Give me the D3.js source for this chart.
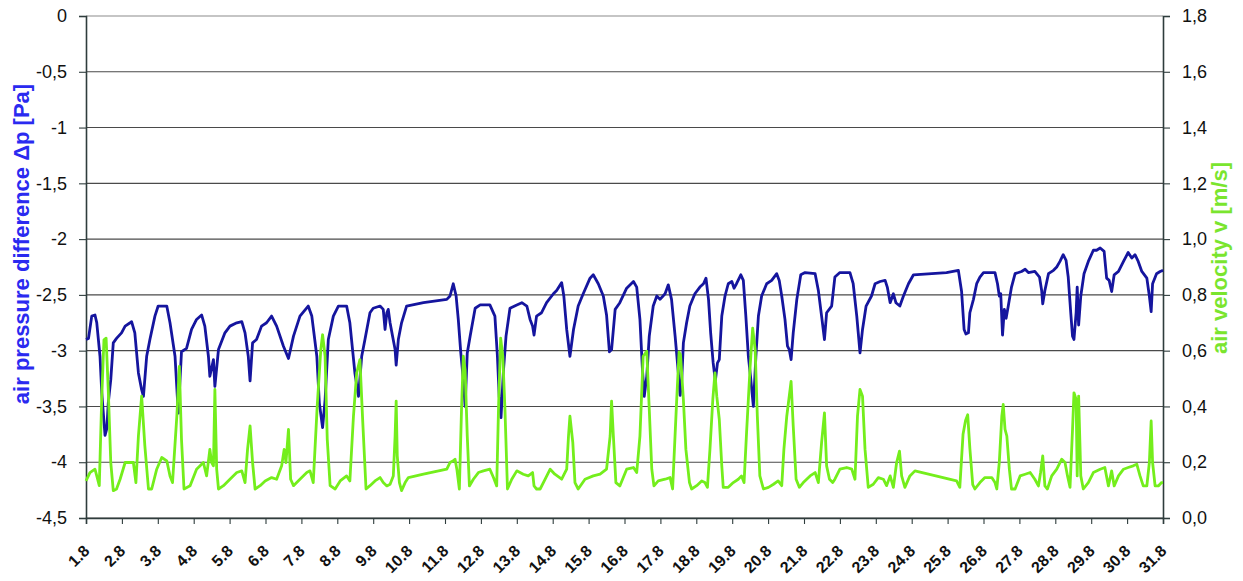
<!DOCTYPE html>
<html>
<head>
<meta charset="utf-8">
<script src="https://cdn.jsdelivr.net/npm/d3@7"></script>
<style>
  html, body { margin: 0; padding: 0; background: #ffffff; }
  svg { display: block; }
  text { font-family: "Liberation Sans", Arial, sans-serif; }
</style>
</head>
<body>
<svg id="chart" width="1243" height="581"></svg>
<script>
// Day-of-month tick labels (August)
const dayLabels = ["1.8","2.8","3.8","4.8","5.8","6.8","7.8","8.8","9.8","10.8","11.8","12.8","13.8","14.8","15.8","16.8","17.8","18.8","19.8","20.8","21.8","22.8","23.8","24.8","25.8","26.8","27.8","28.8","29.8","30.8","31.8"];
const pressureTicks = [0, -0.5, -1, -1.5, -2, -2.5, -3, -3.5, -4, -4.5];
const velocityTicks = [0, 0.2, 0.4, 0.6, 0.8, 1.0, 1.2, 1.4, 1.6, 1.8];

// Air pressure difference Δp [Pa]: [days since 1.8, value]
const pressureSeries = [
  [0.00,-2.90],[0.07,-2.89],[0.16,-2.69],[0.25,-2.68],[0.30,-2.75],[0.39,-3.05],[0.44,-3.38],[0.53,-3.76],
  [0.58,-3.70],[0.62,-3.47],[0.69,-3.26],[0.76,-2.93],[0.85,-2.89],[0.99,-2.84],[1.09,-2.78],[1.23,-2.75],
  [1.27,-2.74],[1.36,-2.84],[1.46,-3.20],[1.55,-3.35],[1.60,-3.41],[1.69,-3.05],[1.78,-2.90],[1.92,-2.69],
  [2.01,-2.60],[2.25,-2.60],[2.34,-2.75],[2.48,-3.05],[2.57,-3.56],[2.66,-3.01],[2.80,-2.98],[2.94,-2.81],
  [3.08,-2.72],[3.22,-2.68],[3.31,-2.78],[3.41,-3.05],[3.45,-3.23],[3.55,-3.08],[3.59,-3.32],[3.69,-2.99],
  [3.87,-2.84],[4.01,-2.78],[4.20,-2.75],[4.34,-2.74],[4.43,-2.84],[4.52,-3.05],[4.57,-3.27],[4.64,-2.93],
  [4.75,-2.90],[4.89,-2.78],[5.03,-2.75],[5.17,-2.69],[5.31,-2.78],[5.50,-2.96],[5.64,-3.07],[5.78,-2.87],
  [5.96,-2.69],[6.19,-2.60],[6.29,-2.69],[6.43,-3.05],[6.50,-3.47],[6.59,-3.69],[6.66,-3.44],[6.75,-2.90],
  [6.89,-2.69],[7.03,-2.60],[7.26,-2.60],[7.35,-2.75],[7.49,-3.20],[7.59,-3.41],[7.68,-3.05],[7.77,-2.90],
  [7.91,-2.66],[8.00,-2.62],[8.19,-2.60],[8.28,-2.63],[8.33,-2.81],[8.38,-2.66],[8.42,-2.63],[8.47,-2.75],
  [8.54,-2.87],[8.61,-2.99],[8.64,-3.13],[8.70,-2.90],[8.79,-2.75],[8.93,-2.60],[9.40,-2.57],[10.05,-2.54],
  [10.14,-2.51],[10.23,-2.40],[10.31,-2.51],[10.37,-2.72],[10.44,-3.02],[10.51,-3.26],[10.56,-3.50],[10.62,-3.02],
  [10.70,-2.87],[10.84,-2.62],[10.98,-2.59],[11.25,-2.59],[11.39,-2.69],[11.46,-3.05],[11.51,-3.41],[11.56,-3.60],
  [11.63,-3.17],[11.70,-2.87],[11.81,-2.62],[12.00,-2.59],[12.14,-2.57],[12.28,-2.60],[12.37,-2.72],[12.44,-2.78],
  [12.48,-2.86],[12.55,-2.69],[12.69,-2.66],[12.83,-2.57],[13.02,-2.49],[13.11,-2.46],[13.25,-2.39],[13.31,-2.51],
  [13.39,-2.81],[13.48,-3.05],[13.58,-2.81],[13.71,-2.60],[13.85,-2.49],[14.04,-2.35],[14.13,-2.32],[14.27,-2.40],
  [14.41,-2.51],[14.50,-2.68],[14.58,-3.01],[14.64,-2.99],[14.74,-2.63],[14.87,-2.57],[15.06,-2.44],[15.25,-2.38],
  [15.34,-2.43],[15.43,-2.72],[15.50,-3.17],[15.55,-3.41],[15.62,-3.23],[15.69,-2.87],[15.80,-2.60],[15.90,-2.51],
  [15.99,-2.54],[16.13,-2.49],[16.22,-2.41],[16.31,-2.54],[16.41,-2.87],[16.50,-3.20],[16.55,-3.40],[16.59,-3.29],
  [16.64,-2.93],[16.73,-2.75],[16.82,-2.60],[16.96,-2.49],[17.10,-2.43],[17.20,-2.40],[17.27,-2.35],[17.34,-2.54],
  [17.40,-2.84],[17.47,-3.11],[17.53,-3.27],[17.59,-3.11],[17.64,-3.08],[17.71,-2.69],[17.80,-2.51],[17.89,-2.40],
  [17.99,-2.38],[18.05,-2.44],[18.12,-2.40],[18.24,-2.32],[18.31,-2.37],[18.38,-2.69],[18.45,-3.05],[18.51,-3.23],
  [18.59,-3.50],[18.66,-3.05],[18.73,-2.69],[18.82,-2.51],[18.96,-2.40],[19.10,-2.37],[19.24,-2.31],[19.31,-2.37],
  [19.38,-2.51],[19.47,-2.72],[19.54,-2.96],[19.59,-2.99],[19.64,-3.08],[19.70,-2.84],[19.80,-2.54],[19.91,-2.32],
  [20.03,-2.30],[20.31,-2.31],[20.40,-2.46],[20.49,-2.69],[20.57,-2.90],[20.63,-2.66],[20.77,-2.60],[20.86,-2.34],
  [21.00,-2.30],[21.28,-2.30],[21.37,-2.40],[21.47,-2.69],[21.56,-3.02],[21.63,-2.81],[21.73,-2.60],[21.88,-2.51],
  [21.98,-2.40],[22.12,-2.38],[22.26,-2.37],[22.32,-2.43],[22.40,-2.57],[22.49,-2.49],[22.56,-2.57],[22.67,-2.60],
  [22.77,-2.51],[22.91,-2.40],[23.05,-2.32],[23.97,-2.30],[24.30,-2.28],[24.39,-2.47],[24.46,-2.81],[24.51,-2.85],
  [24.58,-2.84],[24.62,-2.66],[24.72,-2.54],[24.81,-2.40],[24.90,-2.34],[25.00,-2.30],[25.32,-2.30],[25.39,-2.40],
  [25.44,-2.51],[25.48,-2.49],[25.53,-2.86],[25.58,-2.63],[25.63,-2.71],[25.69,-2.60],[25.78,-2.43],[25.88,-2.31],
  [26.06,-2.29],[26.16,-2.27],[26.25,-2.30],[26.43,-2.29],[26.56,-2.34],[26.62,-2.46],[26.65,-2.58],[26.71,-2.46],
  [26.81,-2.31],[26.95,-2.28],[27.04,-2.25],[27.13,-2.20],[27.22,-2.14],[27.30,-2.19],[27.36,-2.34],[27.43,-2.66],
  [27.48,-2.87],[27.52,-2.90],[27.58,-2.66],[27.61,-2.43],[27.65,-2.77],[27.71,-2.51],[27.80,-2.31],[27.92,-2.20],
  [28.06,-2.10],[28.15,-2.10],[28.25,-2.08],[28.36,-2.11],[28.43,-2.35],[28.50,-2.37],[28.57,-2.47],[28.64,-2.32],
  [28.76,-2.29],[28.90,-2.20],[29.03,-2.12],[29.13,-2.17],[29.22,-2.14],[29.31,-2.20],[29.41,-2.29],[29.55,-2.35],
  [29.62,-2.51],[29.67,-2.65],[29.71,-2.40],[29.82,-2.31],[29.92,-2.29],[30.00,-2.28]
];

// Air velocity v [m/s]: [days since 1.8, value]
const velocitySeries = [
  [0.00,0.133],[0.11,0.163],[0.25,0.175],[0.30,0.151],[0.37,0.116],[0.44,0.437],[0.50,0.639],[0.56,0.645],
  [0.62,0.460],[0.69,0.199],[0.76,0.098],[0.85,0.104],[0.95,0.139],[1.09,0.199],[1.32,0.199],[1.39,0.127],
  [1.46,0.294],[1.55,0.437],[1.64,0.258],[1.74,0.104],[1.83,0.104],[1.97,0.175],[2.11,0.217],[2.25,0.205],
  [2.34,0.151],[2.41,0.127],[2.53,0.365],[2.60,0.544],[2.66,0.282],[2.73,0.104],[2.90,0.116],[3.08,0.175],
  [3.27,0.199],[3.36,0.151],[3.45,0.246],[3.50,0.199],[3.55,0.187],[3.59,0.461],[3.64,0.175],[3.69,0.104],
  [3.83,0.116],[4.01,0.139],[4.20,0.163],[4.34,0.169],[4.43,0.127],[4.50,0.246],[4.57,0.330],[4.64,0.199],
  [4.71,0.104],[4.85,0.116],[4.99,0.133],[5.17,0.145],[5.31,0.139],[5.45,0.187],[5.52,0.246],[5.57,0.199],
  [5.64,0.318],[5.70,0.139],[5.78,0.116],[5.96,0.139],[6.15,0.163],[6.24,0.169],[6.33,0.127],[6.44,0.400],
  [6.54,0.604],[6.59,0.657],[6.66,0.580],[6.72,0.282],[6.80,0.116],[6.94,0.104],[7.08,0.133],[7.26,0.151],
  [7.35,0.133],[7.45,0.365],[7.54,0.520],[7.63,0.568],[7.71,0.342],[7.80,0.104],[7.91,0.116],[8.05,0.133],
  [8.19,0.145],[8.28,0.127],[8.38,0.115],[8.47,0.121],[8.56,0.151],[8.61,0.294],[8.64,0.419],[8.67,0.223],
  [8.73,0.127],[8.79,0.098],[8.89,0.127],[8.98,0.145],[9.40,0.157],[10.05,0.175],[10.14,0.199],[10.23,0.205],
  [10.28,0.211],[10.33,0.175],[10.40,0.104],[10.46,0.389],[10.51,0.580],[10.56,0.532],[10.62,0.294],[10.68,0.115],
  [10.79,0.139],[10.93,0.163],[11.07,0.169],[11.25,0.175],[11.35,0.145],[11.44,0.115],[11.49,0.389],[11.55,0.645],
  [11.61,0.580],[11.67,0.389],[11.74,0.104],[11.86,0.139],[12.00,0.169],[12.18,0.157],[12.32,0.151],[12.44,0.163],
  [12.48,0.115],[12.55,0.104],[12.65,0.104],[12.79,0.139],[12.93,0.175],[13.06,0.157],[13.25,0.139],[13.39,0.175],
  [13.44,0.294],[13.48,0.365],[13.56,0.270],[13.62,0.127],[13.71,0.104],[13.90,0.139],[14.13,0.151],[14.32,0.157],
  [14.50,0.175],[14.60,0.294],[14.64,0.419],[14.69,0.294],[14.76,0.127],[14.87,0.115],[15.06,0.175],[15.25,0.181],
  [15.34,0.163],[15.43,0.294],[15.52,0.580],[15.62,0.598],[15.69,0.389],[15.76,0.175],[15.82,0.115],[15.94,0.133],
  [16.13,0.139],[16.27,0.145],[16.34,0.104],[16.45,0.413],[16.52,0.595],[16.56,0.585],[16.64,0.425],[16.71,0.246],
  [16.81,0.127],[16.87,0.104],[17.01,0.116],[17.15,0.133],[17.24,0.127],[17.31,0.110],[17.38,0.246],[17.46,0.425],
  [17.52,0.520],[17.57,0.437],[17.64,0.354],[17.71,0.187],[17.75,0.110],[17.89,0.110],[18.03,0.127],[18.17,0.139],
  [18.26,0.151],[18.33,0.127],[18.40,0.306],[18.50,0.544],[18.57,0.681],[18.64,0.604],[18.70,0.365],[18.77,0.151],
  [18.87,0.104],[19.01,0.110],[19.15,0.121],[19.28,0.133],[19.38,0.116],[19.44,0.246],[19.52,0.365],[19.64,0.490],
  [19.70,0.330],[19.78,0.139],[19.87,0.110],[19.98,0.127],[20.17,0.151],[20.31,0.163],[20.40,0.127],[20.49,0.270],
  [20.57,0.377],[20.63,0.187],[20.71,0.139],[20.80,0.127],[20.86,0.139],[21.00,0.175],[21.19,0.181],[21.33,0.175],
  [21.42,0.139],[21.49,0.365],[21.56,0.461],[21.63,0.437],[21.70,0.246],[21.79,0.110],[21.93,0.121],[22.07,0.145],
  [22.21,0.139],[22.30,0.116],[22.40,0.151],[22.49,0.110],[22.58,0.199],[22.66,0.240],[22.72,0.151],[22.81,0.110],
  [22.95,0.151],[23.09,0.169],[24.25,0.133],[24.34,0.110],[24.43,0.300],[24.50,0.350],[24.56,0.370],[24.62,0.250],
  [24.70,0.120],[24.76,0.104],[24.90,0.127],[25.04,0.145],[25.23,0.145],[25.32,0.127],[25.37,0.104],[25.44,0.199],
  [25.51,0.365],[25.55,0.407],[25.60,0.318],[25.65,0.294],[25.72,0.175],[25.78,0.104],[25.88,0.104],[26.02,0.151],
  [26.16,0.157],[26.30,0.163],[26.43,0.139],[26.53,0.115],[26.59,0.163],[26.65,0.223],[26.71,0.115],[26.78,0.104],
  [26.90,0.151],[27.04,0.175],[27.18,0.211],[27.27,0.199],[27.34,0.151],[27.41,0.110],[27.48,0.318],[27.52,0.449],
  [27.58,0.425],[27.61,0.151],[27.65,0.437],[27.71,0.151],[27.78,0.104],[27.92,0.127],[28.06,0.163],[28.25,0.175],
  [28.38,0.181],[28.48,0.115],[28.57,0.169],[28.64,0.115],[28.76,0.151],[28.90,0.175],[29.03,0.181],[29.17,0.187],
  [29.27,0.193],[29.36,0.151],[29.45,0.115],[29.55,0.115],[29.62,0.199],[29.67,0.348],[29.71,0.199],[29.78,0.115],
  [29.87,0.115],[29.96,0.127],[30.00,0.127]
];

const svg = d3.select("#chart");
const plot = { left: 86, right: 1163, top: 16, bottom: 518 };

const x = d3.scaleLinear().domain([0, dayLabels.length - 1]).range([plot.left, plot.right]);
const yP = d3.scaleLinear().domain([-4.5, 0]).range([plot.bottom, plot.top]);
const yV = d3.scaleLinear().domain([0, 1.8]).range([plot.bottom, plot.top]);

const commaFmt = f => v => f(v).replace(".", ",").replace("−", "-");
const fmtP = commaFmt(v => (Number.isInteger(v) ? d3.format("d")(v) : d3.format(".1f")(v)));
const fmtV = commaFmt(d3.format(".1f"));

// Horizontal gridlines at each pressure tick
svg.append("g").selectAll("line").data(pressureTicks).join("line")
  .attr("x1", plot.left).attr("x2", plot.right)
  .attr("y1", d => yP(d)).attr("y2", d => yP(d))
  .attr("stroke", d => d === 0 ? "#8c8c8c" : "#4a4a4a")
  .attr("stroke-width", 1.1);

// Left axis
const leftAxis = svg.append("g")
  .attr("transform", `translate(${plot.left},0)`)
  .call(d3.axisLeft(yP).tickValues(pressureTicks).tickSize(7).tickPadding(12).tickFormat(fmtP));

// Right axis
const rightAxis = svg.append("g")
  .attr("transform", `translate(${plot.right},0)`)
  .call(d3.axisRight(yV).tickValues(velocityTicks).tickSize(7).tickPadding(12).tickFormat(fmtV));

// Bottom axis
const bottomAxis = svg.append("g")
  .attr("transform", `translate(0,${plot.bottom})`)
  .call(d3.axisBottom(x).tickValues(d3.range(dayLabels.length)).tickSize(6).tickFormat(i => dayLabels[i]));

[leftAxis, rightAxis, bottomAxis].forEach(g => {
  g.attr("font-family", "'Liberation Sans', Arial, sans-serif");
  g.select(".domain").attr("stroke", "#2f3d3d").attr("stroke-width", 1.6);
  g.selectAll(".tick line").attr("stroke", "#2f3d3d").attr("stroke-width", 1.1);
});
[leftAxis, rightAxis].forEach(g => {
  g.attr("font-size", 18);
  g.selectAll(".tick text").attr("fill", "#111");
});
bottomAxis.attr("font-size", 16).attr("font-weight", "bold");
bottomAxis.selectAll(".tick text")
  .attr("fill", "#111")
  .attr("text-anchor", "end")
  .attr("dy", "0")
  .attr("y", 0)
  .attr("transform", "translate(4,34) rotate(-45)");

// Series lines
const pressureLine = d3.line().x(d => x(d[0])).y(d => yP(d[1]));
const velocityLine = d3.line().x(d => x(d[0])).y(d => yV(d[1]));

svg.append("path").datum(pressureSeries)
  .attr("d", pressureLine)
  .attr("fill", "none").attr("stroke", "#15159e").attr("stroke-width", 2.8)
  .attr("stroke-linejoin", "round");

svg.append("path").datum(velocitySeries)
  .attr("d", velocityLine)
  .attr("fill", "none").attr("stroke", "#74ee1c").attr("stroke-width", 2.8)
  .attr("stroke-linejoin", "round");

// Axis titles
svg.append("text")
  .attr("transform", "translate(29,244) rotate(-90)")
  .attr("text-anchor", "middle")
  .attr("fill", "#2a2af0")
  .style("font-size", "22px").style("font-weight", "bold")
  .text("air pressure difference Δp [Pa]");

svg.append("text")
  .attr("transform", "translate(1227,258) rotate(-90)")
  .attr("text-anchor", "middle")
  .attr("fill", "#7ae52e")
  .style("font-size", "22px").style("font-weight", "bold")
  .text("air velocity v [m/s]");
</script>
</body>
</html>
